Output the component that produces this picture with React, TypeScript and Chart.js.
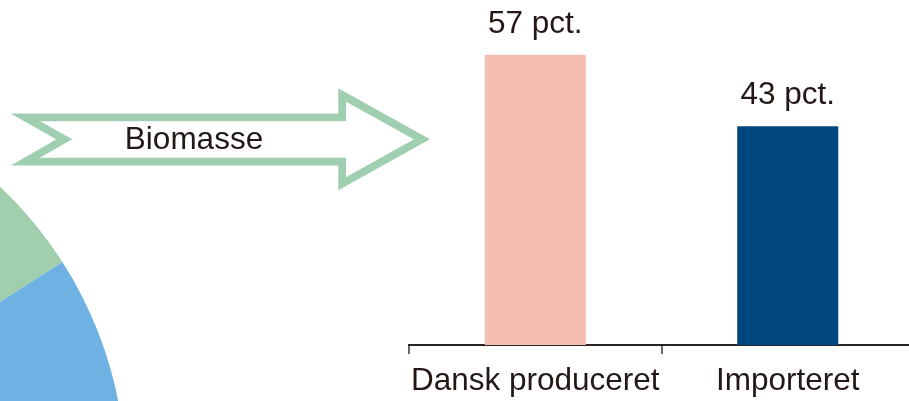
import React, { useEffect, useRef } from "react";
import { Chart, registerables } from "chart.js";

Chart.register(...registerables);

// ---- data ----
const barCategories = ["Dansk produceret", "Importeret"];
const barValues = [57, 43];
const barUnit = "pct.";
const barColors = ["#f4bfb1", "#00467f"];

const pieLabels = ["Biomasse", "Øvrige"];
const pieValues = [25, 75];
const pieColors = ["#a1cfae", "#6fb1e3"];

const arrowText = "Biomasse";

// ---- styling ----
const FONT = "'Liberation Sans', Arial, Helvetica, sans-serif";
const TEXT = "#231815";
const ARROW_COLOR = "#9fcfb0";
const FONT_SIZE = 31.5;
const PIE_BOUNDARY_ANGLE = 57.4; // degrees clockwise from top where first slice ends

// arrow outline (decoration, pixel coords of stroke centre line)
const arrowOutline: [number, number][] = [
  [25.3, 117.3],
  [342.2, 117.3],
  [342.2, 95],
  [421.9, 139.3],
  [342.2, 183.6],
  [342.2, 161.7],
  [25.3, 161.7],
  [64.2, 139.3],
];

const barLabelPlugin = {
  id: "barLabels",
  afterDatasetsDraw(chart: any) {
    const ctx = chart.ctx;
    const meta = chart.getDatasetMeta(0);
    ctx.save();
    ctx.font = `${FONT_SIZE}px ${FONT}`;
    ctx.fillStyle = TEXT;
    ctx.textAlign = "center";
    ctx.textBaseline = "alphabetic";
    meta.data.forEach((el: any, i: number) => {
      ctx.fillText(`${barValues[i]} ${barUnit}`, el.x, el.y - 22);
    });
    ctx.restore();
  },
};

const arrowPlugin = {
  id: "arrow",
  afterDraw(chart: any) {
    const ctx = chart.ctx;
    ctx.save();
    ctx.beginPath();
    arrowOutline.forEach(([x, y], i) => {
      if (i === 0) ctx.moveTo(x, y);
      else ctx.lineTo(x, y);
    });
    ctx.closePath();
    ctx.lineJoin = "miter";
    ctx.miterLimit = 10;
    ctx.lineWidth = 7.8;
    ctx.strokeStyle = ARROW_COLOR;
    ctx.stroke();
    ctx.font = `${FONT_SIZE}px ${FONT}`;
    ctx.fillStyle = TEXT;
    ctx.textAlign = "center";
    ctx.textBaseline = "alphabetic";
    ctx.fillText(arrowText, 194, 149.3);
    ctx.restore();
  },
};

export default function App() {
  const pieRef = useRef<HTMLCanvasElement | null>(null);
  const barRef = useRef<HTMLCanvasElement | null>(null);

  useEffect(() => {
    const pieSum = pieValues.reduce((a, b) => a + b, 0);
    const pie = new Chart(pieRef.current as HTMLCanvasElement, {
      type: "pie",
      data: {
        labels: pieLabels,
        datasets: [
          {
            data: pieValues,
            backgroundColor: pieColors,
            borderWidth: 0,
          },
        ],
      },
      options: {
        responsive: false,
        animation: false,
        rotation: PIE_BOUNDARY_ANGLE - (360 * pieValues[0]) / pieSum,
        layout: { padding: 0 },
        plugins: { legend: { display: false }, tooltip: { enabled: false } },
      },
    });

    const bar = new Chart(barRef.current as HTMLCanvasElement, {
      type: "bar",
      data: {
        labels: barCategories,
        datasets: [
          {
            data: barValues,
            backgroundColor: barColors,
            borderWidth: 0,
            barPercentage: 0.4,
            categoryPercentage: 1,
          },
        ],
      },
      options: {
        responsive: false,
        animation: false,
        layout: { padding: { left: 409, top: 39.6, right: 0, bottom: 0 } },
        plugins: { legend: { display: false }, tooltip: { enabled: false } },
        scales: {
          x: {
            offset: true,
            grid: {
              display: true,
              drawOnChartArea: false,
              drawTicks: true,
              tickLength: 9,
              lineWidth: 2,
              color: "#6f6764",
              offset: true,
            },
            border: { display: true, color: "#2a2522", width: 2 },
            ticks: {
              color: TEXT,
              font: { family: FONT, size: FONT_SIZE },
              padding: 8,
              maxRotation: 0,
              autoSkip: false,
            },
            afterFit: (s: any) => {
              s.height = 56;
            },
          },
          y: { display: false, min: 0, max: 60 },
        },
      },
      plugins: [barLabelPlugin, arrowPlugin],
    });

    return () => {
      pie.destroy();
      bar.destroy();
    };
  }, []);

  return (
    <div
      style={{
        position: "fixed",
        left: 0,
        top: 0,
        width: 909,
        height: 401,
        overflow: "hidden",
        background: "#ffffff",
      }}
    >
      <canvas
        ref={pieRef}
        width={807}
        height={807}
        style={{ position: "absolute", left: -681, top: 76, width: 807, height: 807 }}
      />
      <canvas
        ref={barRef}
        width={914}
        height={401}
        style={{ position: "absolute", left: 0, top: 0, width: 914, height: 401 }}
      />
    </div>
  );
}
